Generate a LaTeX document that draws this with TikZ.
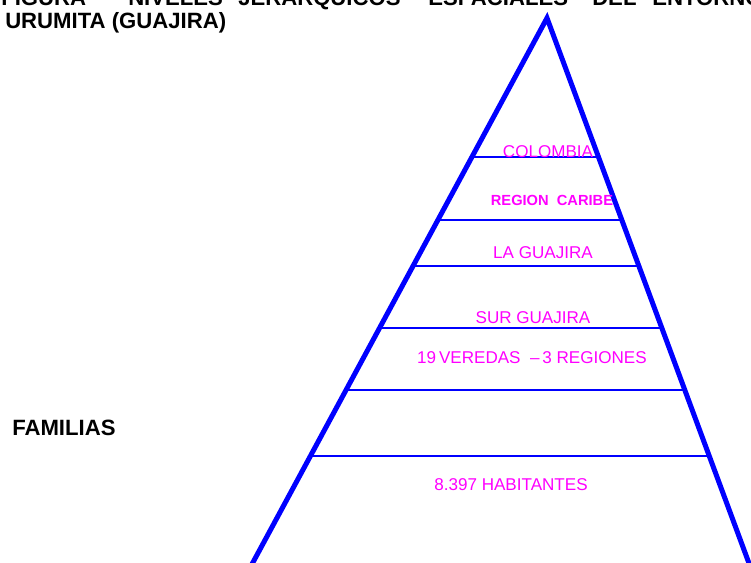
\documentclass[tikz,border=0pt]{standalone}
\usepackage{fontspec}
\setmainfont{Liberation Sans}
\usepackage{tikz}

\definecolor{pyrblue}{RGB}{0,0,255}
\definecolor{lvlpink}{RGB}{255,0,255}
\tikzset{
  lvl/.style={text=lvlpink, font=\fontsize{12.8}{14}\selectfont, inner sep=0pt, anchor=base},
  hdr/.style={text=black, font=\bfseries\fontsize{16.6}{19}\selectfont, inner sep=0pt, anchor=base west},
  side/.style={draw=pyrblue, line width=3.75pt, line join=miter},
  rung/.style={draw=pyrblue, line width=1.5pt}
}

\begin{document}
\begin{tikzpicture}[x=0.75pt,y=-0.75pt]
    \useasboundingbox (0,0) rectangle (751,562);
    % heading, cut at the top edge
    \node[hdr] (figura) at (1,5) {FIGURA};
    \node[hdr] (niveles) at (128,5) {NIVELES};
    \node[hdr] (jerarq) at (238,5) {JERARQUICOS};
    \node[hdr] (espac) at (428,5) {ESPACIALES};
    \node[hdr] (del) at (592,5) {DEL};
    \node[hdr] (entorno) at (652,5) {ENTORNO};
    \node[hdr] (urumita) at (5,28) {URUMITA (GUAJIRA)};
    \node[hdr] (familias) at (12,435) {FAMILIAS};
    % pyramid
    \coordinate (apex) at (547,18);
    \coordinate (bl) at (251,566);
    \coordinate (br) at (750,566);
    \draw[side] (bl) -- (apex) -- (br);
    \draw[rung] (472,157) -- (598,157);
    \draw[rung] (438,220) -- (622,220);
    \draw[rung] (413,266) -- (639,266);
    \draw[rung] (381,328) -- (660,328);
    \draw[rung] (346,390) -- (685,390);
    \draw[rung] (311,456) -- (709,456);
    % levels
    \node[lvl] (colombia) at (548,157) {COLOMBIA};
    \node[lvl, font=\bfseries\fontsize{11}{13}\selectfont] (caribe) at (552,205) {REGION\ \ CARIBE};
    \node[lvl] (guajira) at (543,258) {LA GUAJIRA};
    \node[lvl] (sur) at (533,323) {SUR GUAJIRA};
    \node[lvl] (veredas) at (532,363) {19\,VEREDAS\ \ --\,3 REGIONES};
    \node[lvl] (habit) at (511,490) {8.397 HABITANTES};
\end{tikzpicture}
\end{document}
